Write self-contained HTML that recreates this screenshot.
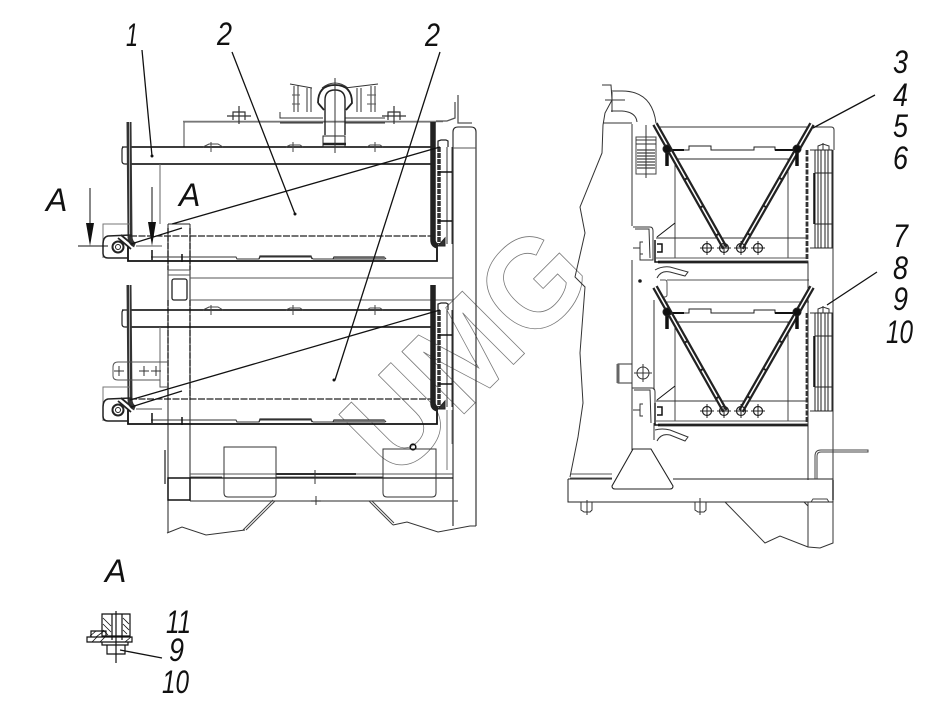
<!DOCTYPE html>
<html><head><meta charset="utf-8"><style>
html,body{margin:0;padding:0;background:#fff}
svg{display:block}
text.l{font-family:"Liberation Sans",sans-serif;font-style:italic;font-size:32px;fill:#111}
</style></head><body>
<svg width="938" height="725" viewBox="0 0 938 725" xmlns="http://www.w3.org/2000/svg" fill="none" stroke="#222" stroke-width="1">
<defs>
<g id="cross"><circle r="4.5" stroke-width="1.2"/><path d="M-7 0H7M0-7V7" stroke-width="1"/></g>

<!-- left unit -->
<g id="leftTank">
<path d="M122 147H432V164H125Q122 164 122 161V150Q122 147 124 147" stroke-width="1.2"/>
<path d="M130 147H432M130 164H432" stroke="#111" stroke-width="1.4"/>
<path d="M160 164V224" stroke="#666"/>
<path d="M129 122L130 236Q130 243 135 245" stroke="#333" stroke-width="5"/>
<path d="M129.500 122V236" stroke="#aaa" stroke-width="1"/>
<path d="M128 246V261H437V244" stroke="#111" stroke-width="1.8"/>
<path d="M130 236H432" stroke="#222" stroke-width="1.3" stroke-dasharray="7 1.5"/>
<path d="M151 257H236L237 259H259L260 257H311L313 259H385" stroke="#333"/>
<path d="M259 259L260 256H311L312 259M333 259L334 257H384L386 259" stroke="#333" stroke-width="1.2"/>
<path d="M334 258.500H385" stroke="#777" stroke-width="2.400"/>
<path d="M433 122V240Q433 245 438 246" stroke="#222" stroke-width="5.500"/>
<path d="M439 147V244" stroke="#333" stroke-width="3.500" stroke-dasharray="5 1"/>
<path d="M447 147V244M452 147V244" stroke="#333" stroke-width="1"/>
<path d="M438 172H452M438 221H452" stroke="#111" stroke-width="1.400"/>
<path d="M438 147V141L441 140H446L448 141V147" stroke-width="1.200"/>
<path d="M438 246L445 238V246Z" fill="#333"/>
<path d="M103 258L103 224H130" stroke="#777"/>
<path d="M132 235L108 236Q103 237 103 244V253Q103 258 108 258H128" stroke-width="1.500"/>
<circle cx="118" cy="247" r="5.500" stroke-width="2"/><circle cx="118" cy="247" r="2.500"/>
<path d="M118 238L131 249M121 235L133 245" stroke-width="1.800"/>
<path d="M131 244L182 228" stroke="#111" stroke-width="1.200"/>
<path d="M136 246H162" stroke="#555"/>
<path d="M152 250L152 260M182 254V262" stroke="#111" stroke-width="1.500"/>
</g>
<!-- right unit -->
<g id="rightUnit">
<path d="M668 150H689V146H711V150H754V147H775V150H800" stroke="#222"/>
<path d="M668 150H684M775 150H800" stroke="#111" stroke-width="2"/>
<path d="M675 159H790" stroke="#555" stroke-width="1.300"/>
<path d="M675 159V258M788 159V258" stroke="#444"/>
<path d="M656 238H808" stroke="#333"/>
<path d="M658 262H808" stroke="#222" stroke-width="2.800"/>
<path d="M656 258H808" stroke="#555" stroke-width="1"/>
<path d="M807 150V262" stroke="#333" stroke-width="2.800" stroke-dasharray="5 1.500"/>
<path d="M655 124L725 248" stroke="#222" stroke-width="6"/>
<path d="M655 124L725 248" stroke="#fff" stroke-width="1.500" stroke-dasharray="30 2"/>
<path d="M812 124L741 248" stroke="#222" stroke-width="6"/>
<path d="M812 124L741 248" stroke="#fff" stroke-width="1.500" stroke-dasharray="30 2"/>
<path d="M667 147L667 166M797 147L797 166" stroke="#111" stroke-width="3.500"/>
<circle cx="667" cy="149" r="4" fill="#111"/><circle cx="797" cy="149" r="4" fill="#111"/>
<use href="#cross" x="707" y="248"/><use href="#cross" x="724" y="248"/>
<use href="#cross" x="741" y="248"/><use href="#cross" x="758" y="248"/>
<path d="M815 150H832V248H815Z M815 173H832 M815 224H832 M818 150V248M821 150V248M825 150V248M828 150V248" stroke="#222"/>
<path d="M814 173V224" stroke="#111" stroke-width="1.500"/>
<path d="M810 150L815 150M810 248H815" stroke="#333"/>
<path d="M823 150V143M818 150V146L823 144L829 146V150" stroke="#333"/>
<path d="M655 240V262L660 262M657 244H662V252H657" stroke="#111" stroke-width="1.500"/>
<path d="M657 237L675 223" stroke="#111"/>
</g>
</defs>

<!-- watermark -->
<text transform="translate(396,482) rotate(-45)" font-family="Liberation Sans, sans-serif" font-weight="bold" font-size="128" textLength="285" lengthAdjust="spacingAndGlyphs" fill="none" stroke="#777" stroke-width=".8">UMG</text>

<!-- LEFT VIEW frame -->
<path d="M184 147V122H436" stroke="#444"/>
<path d="M183 121.500H443" stroke="#777" stroke-width="1.500"/>
<path d="M436 121H447L455 118V102M458 95V123H472" stroke="#555" stroke-width="1.300"/>
<path d="M453 526V132Q453 127 458 127H471Q476 127 476 132V526" stroke="#222" stroke-width="1.100"/>
<path d="M453 148H476" stroke="#555"/>
<path d="M168 224V533M190 224V501" stroke="#222" stroke-width="1"/>
<path d="M168 224H190" stroke="#222"/>
<path d="M168 228V270M190 228V270M168 300V400M190 300V400" stroke="#222" stroke-width="1.400" stroke-dasharray="6 1.500"/>
<path d="M168 270H190M168 275H190" stroke="#555"/>
<rect x="172" y="279" width="15" height="21" rx="2" stroke-width="1.300"/>
<path d="M190 278H453M190 300H453" stroke="#555"/>
<use href="#leftTank"/>
<use href="#leftTank" y="163"/>
<!-- lower plate -->
<path d="M168 362H118Q113 362 113 367V376Q113 380 118 380H160V387H168" stroke="#555"/>
<path d="M119 366V376M114 371H124M144 366V376M139 371H149M156 366V376M151 371H161M131 366V376" stroke="#333"/>
<!-- crosses on upper bars -->
<path d="M211 142V152M203 147L209 144H218L223 147M293 142V152M286 147L290 145H300L303 147M375 142V152M367 147L370 145H380L383 147" stroke="#444"/>
<path d="M211 305V315M203 310L209 307H218L223 310M293 305V315M286 310L290 308H300L303 310M375 305V315M367 310L370 308H380L383 310" stroke="#444"/>
<!-- base -->
<path d="M190 474H453M190 477H222M276 477H383" stroke="#555" stroke-width="1"/>
<path d="M276 474H356" stroke="#111" stroke-width="1.800"/>
<path d="M190 478H453" stroke="#111" stroke-width="1.200"/>
<path d="M190 501H458" stroke="#555" stroke-width="1.300"/>
<rect x="168" y="478" width="22" height="22" stroke="#111" stroke-width="1.500"/>
<path d="M165 450V484" stroke="#777" stroke-width="2"/>
<path d="M224 447H276V493Q276 497 272 497H228Q224 497 224 493Z" stroke="#333"/>
<path d="M383 449H436V493Q436 497 432 497H387Q383 497 383 493Z" stroke="#333"/>
<circle cx="413" cy="447" r="2.800" stroke="#111" stroke-width="1.600"/>
<path d="M315 470V484M311 501H321M316 496V505" stroke="#333"/>
<path d="M273 500L243 530M275 501L246 530" stroke="#444"/>
<path d="M369 501L393 525M372 501L394 523" stroke="#444"/>
<path d="M167 533L182 527L206 535L245 530M393 525L407 522L438 532L470 526L476 526" stroke="#333"/>
<path d="M447 410V470M452 410V444" stroke="#777" stroke-width="1"/>
<!-- top engine -->
<path d="M233 120V112H245V120M227 116H251M239 106V124M388 120V112H400V120M382 116H406M394 106V124" stroke="#333" stroke-width="1.200"/>
<path d="M280 112V118H323M345 118H385M280 123H323M345 123H385" stroke="#333"/>
<path d="M290 84L312 88M345 88L378 84M294 86V112M298 86V112M307 88V112M311 88V112M357 88V112M361 88V112M371 86V112M375 86V112" stroke="#333"/>
<path d="M292 95H300M292 104H300M367 95H376M367 104H376" stroke="#555"/>
<path d="M325 135V100Q325 90 335 90Q345 90 345 100V135" stroke="#222" stroke-width="1.400"/>
<path d="M318 103Q318 85 335 85Q352 85 352 103L346 110M318 103L324 110" stroke="#222" stroke-width="1.800"/>
<path d="M322 88Q335 78 348 88" stroke="#333"/>
<path d="M323 136H345V147H323Z" stroke="#222"/><path d="M323 144H346" stroke="#222" stroke-width="2.500"/>
<path d="M335 78V153" stroke="#333"/>
<!-- arrows -->
<path d="M78 246H108M90 188V224M152 187V224" stroke="#111" stroke-width="1"/>
<path d="M86 223H94L90 246Z M148 222H156L152 246Z" fill="#111" stroke="none"/>
<!-- RIGHT VIEW -->
<path d="M602 85H611L612 100L605 113L603 125L602 153L580 207L585 233L575 277L585 287L580 353L583 403L578 437L570 477" stroke="#333"/>
<path d="M611 91H622Q652 91 656 123M611 111H622Q636 112 637 122M603 123H632" stroke="#333"/>
<path d="M612 92V112M605 100H625" stroke="#333"/>
<rect x="636" y="137" width="20" height="37" stroke="#444"/>
<path d="M637 150H655M637 153H655M637 156H655M637 159H655M637 162H655M637 165H655M637 168H655" stroke="#444" stroke-width="1.300"/>
<path d="M636 140H656M636 144H656" stroke="#333"/>
<path d="M646 125V178" stroke="#333"/>
<path d="M632 124V226M632 260V450" stroke="#333"/>
<path d="M633 227H650Q653 227 653 231V260H640V254M635 229H649L650 258" stroke="#333"/>
<path d="M643 242H640V254H643M640 248H633" stroke="#333"/>
<path d="M655 270Q662 266 670 267L688 272L685 276L670 272Q661 270 657 278" stroke="#333"/>
<circle cx="640" cy="281" r="1.300" fill="#111"/>
<path d="M660 280H665Q667 280 667 283V295Q667 297 664 297M667 280H809M660 302H809" stroke="#555"/>
<path d="M655 127H831Q834 127 834 130V150" stroke="#333"/>
<path d="M654 300V390" stroke="#333"/>
<path d="M808 262V480M833 150V480" stroke="#333"/>
<use href="#rightUnit"/>
<use href="#rightUnit" y="163"/>
<path d="M632 364H618V383H632" stroke="#333"/>
<path d="M618 364V383" stroke="#666" stroke-width="3"/>
<circle cx="643" cy="373" r="6" stroke="#333"/><path d="M643 364V382M634 373H652" stroke="#333"/>
<path d="M632 388H652Q655 388 655 392V423M634 390H650L651 423M643 404H640V416H643M640 410H633M654 423L654 440" stroke="#333"/>
<path d="M655 430Q662 428 670 430L688 437L685 441L670 435Q661 433 657 441" stroke="#333"/>
<path d="M633 449H651L673 486Q673 489 670 489H615Q612 489 612 486Z" stroke="#222" stroke-width="1.100"/>
<path d="M571 474H612M570 478H612" stroke="#555" stroke-width="1"/>
<path d="M568 479V502H833V479H673M568 479H612" stroke="#222"/>
<path d="M833 480V500" stroke="#666" stroke-width="2"/>
<path d="M815 479V456Q815 450 821 450H868V452H821Q817 452 817 456V479" stroke="#444"/>
<path d="M581 502V510L584 512H590L592 510V502M587 500V515M695 502V510L698 512H704L706 510V502M700 498V515" stroke="#333"/>
<path d="M811 502L813 499H827L829 502" stroke="#444"/>
<path d="M725 502L765 543L780 536L808 547L820 548L833 543V502M808 502V547M804 502L808 506" stroke="#333"/>
<!-- leaders -->
<g stroke="#111" stroke-width="1.300">
<path d="M142 50L152 156M232 52L295 214M440 52L335 380"/>
<path d="M172 224L440 147M130 400L440 310"/>
<path d="M813 128L875 95M827 305L877 272"/>
<path d="M120 650L162 658"/>
</g>
<circle cx="152" cy="156" r="1.500" fill="#111" stroke="none"/><circle cx="295" cy="214" r="1.500" fill="#111" stroke="none"/><circle cx="334" cy="380" r="1.500" fill="#111" stroke="none"/>
<!-- inset -->
<g stroke="#111" stroke-width="1.200">
<path d="M102 614H130V636H102Z M112 614V640M122 614V640"/>
<path d="M103 618L111 626M103 624L111 632M103 630L108 635M123 618L129 624M123 624L129 630M123 630L127 634" stroke-width=".8"/>
<path d="M87 637H132V642H87Z M91 637V631H106V637M102 642H128V645H102Z M107 645H125V654H107Z"/>
<path d="M90 636L96 631M96 637L104 631M92 642L97 637M100 642L105 637M125 642L131 637" stroke-width=".8"/>
<path d="M116 611V663"/>
</g>
<!-- labels -->
<g stroke="none">
<text class="l" x="126" y="46" textLength="12" lengthAdjust="spacingAndGlyphs">1</text>
<text class="l" x="217" y="45" textLength="15" lengthAdjust="spacingAndGlyphs">2</text>
<text class="l" x="425" y="46" textLength="15" lengthAdjust="spacingAndGlyphs">2</text>
<text class="l" x="46" y="211">A</text>
<text class="l" x="179" y="206">A</text>
<text class="l" x="105" y="582">A</text>
<text class="l" x="893" y="73" textLength="15" lengthAdjust="spacingAndGlyphs">3</text>
<text class="l" x="893" y="106" textLength="15" lengthAdjust="spacingAndGlyphs">4</text>
<text class="l" x="893" y="137" textLength="15" lengthAdjust="spacingAndGlyphs">5</text>
<text class="l" x="893" y="169" textLength="15" lengthAdjust="spacingAndGlyphs">6</text>
<text class="l" x="893" y="247" textLength="15" lengthAdjust="spacingAndGlyphs">7</text>
<text class="l" x="893" y="279" textLength="15" lengthAdjust="spacingAndGlyphs">8</text>
<text class="l" x="893" y="310" textLength="15" lengthAdjust="spacingAndGlyphs">9</text>
<text class="l" x="886" y="343" textLength="27" lengthAdjust="spacingAndGlyphs">10</text>
<text class="l" x="166" y="633" textLength="25" lengthAdjust="spacingAndGlyphs">11</text>
<text class="l" x="169" y="661" textLength="15" lengthAdjust="spacingAndGlyphs">9</text>
<text class="l" x="162" y="693" textLength="27" lengthAdjust="spacingAndGlyphs">10</text>
</g>
</svg>
</body></html>
